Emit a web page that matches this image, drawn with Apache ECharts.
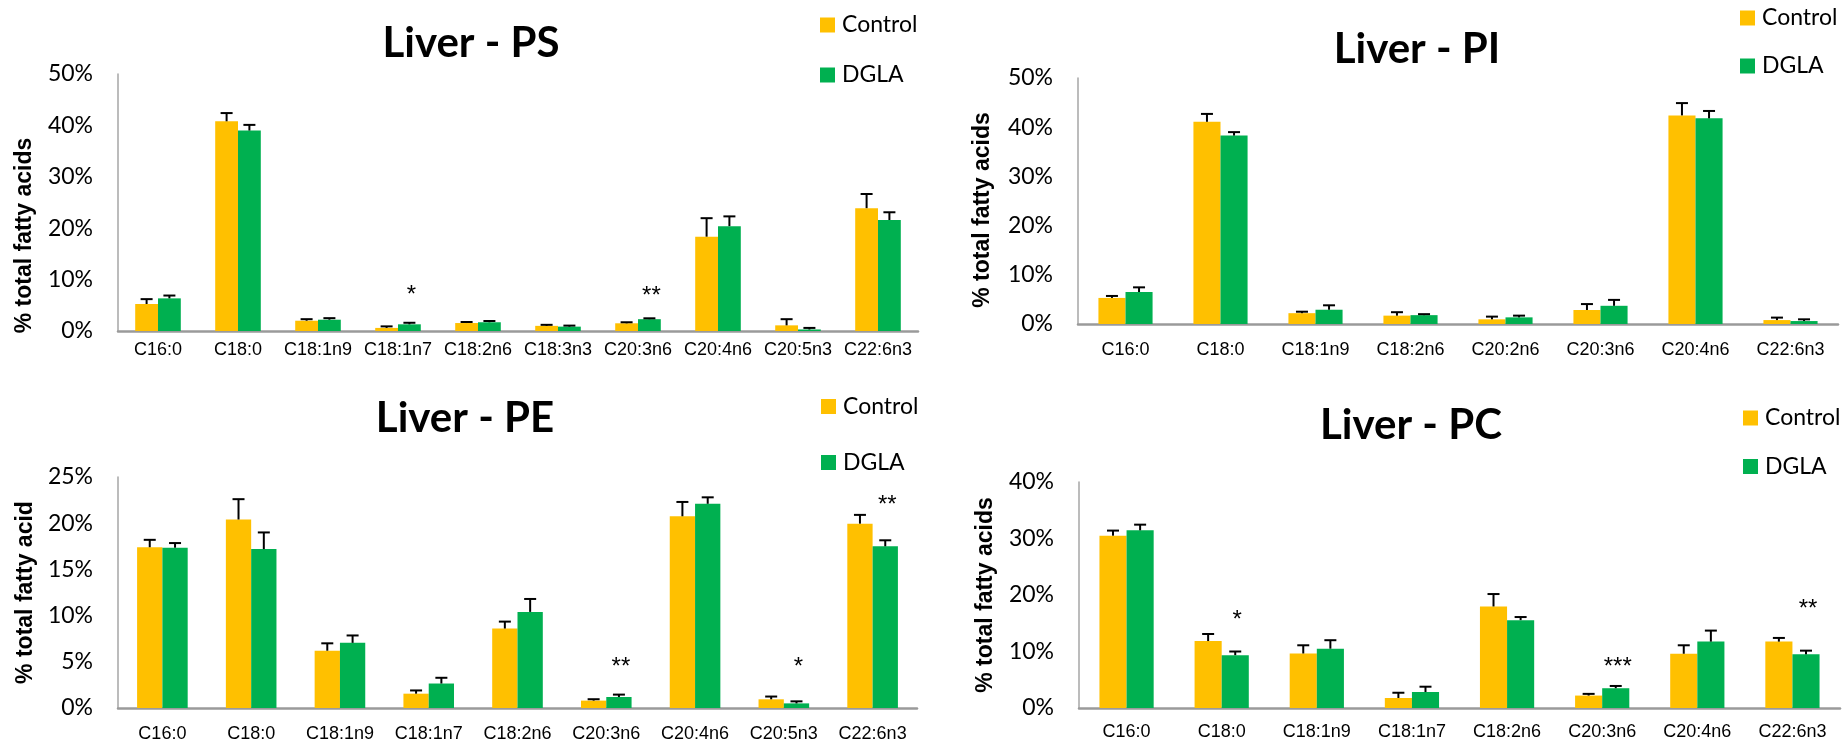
<!DOCTYPE html>
<html>
<head>
<meta charset="utf-8">
<title>Liver phospholipid fatty acids</title>
<script src="https://cdn.jsdelivr.net/npm/echarts@6/dist/echarts.min.js"></script>
<style>
  html, body { margin: 0; padding: 0; background: #fff; }
  #chart { width: 1848px; height: 744px; }
</style>
</head>
<body>
<div id="chart"></div>
<script>
// ---- Fatty acid composition (% of total fatty acids), mean and SEM ----
const seriesNames = ['Control', 'DGLA'];

// Liver - PS
const psCategories = ['C16:0', 'C18:0', 'C18:1n9', 'C18:1n7', 'C18:2n6', 'C18:3n3', 'C20:3n6', 'C20:4n6', 'C20:5n3', 'C22:6n3'];
const psControl    = [5.25, 40.8, 2.0, 0.6, 1.55, 1.0, 1.5, 18.35, 1.1, 23.9];
const psControlErr = [0.95, 1.6, 0.3, 0.3, 0.2, 0.2, 0.2, 3.6, 1.2, 2.75];
const psDGLA       = [6.35, 39.0, 2.2, 1.3, 1.7, 0.85, 2.3, 20.4, 0.3, 21.6];
const psDGLAErr    = [0.55, 1.1, 0.3, 0.3, 0.25, 0.2, 0.17, 1.9, 0.3, 1.5];
const psSig        = [['C18:1n7', '*', 8.1], ['C20:3n6', '**', 8.0]];

// Liver - PI
const piCategories = ['C16:0', 'C18:0', 'C18:1n9', 'C18:2n6', 'C20:2n6', 'C20:3n6', 'C20:4n6', 'C22:6n3'];
const piControl    = [5.3, 41.1, 2.2, 1.7, 0.95, 2.85, 42.4, 0.8];
const piControlErr = [0.4, 1.6, 0.3, 0.7, 0.55, 1.2, 2.5, 0.5];
const piDGLA       = [6.5, 38.3, 2.9, 1.8, 1.35, 3.7, 41.8, 0.6];
const piDGLAErr    = [0.95, 0.7, 0.9, 0.2, 0.35, 1.2, 1.5, 0.35];
const piSig        = [];

// Liver - PE
const peCategories = ['C16:0', 'C18:0', 'C18:1n9', 'C18:1n7', 'C18:2n6', 'C20:3n6', 'C20:4n6', 'C20:5n3', 'C22:6n3'];
const peControl    = [17.4, 20.4, 6.2, 1.55, 8.6, 0.8, 20.75, 0.94, 19.95];
const peControlErr = [0.8, 2.2, 0.8, 0.35, 0.75, 0.15, 1.55, 0.3, 0.95];
const peDGLA       = [17.35, 17.2, 7.05, 2.65, 10.4, 1.19, 22.1, 0.5, 17.5];
const peDGLAErr    = [0.5, 1.8, 0.8, 0.62, 1.4, 0.26, 0.7, 0.22, 0.65];
const peSig        = [['C20:3n6', '**', 5.0], ['C20:5n3', '*', 5.0], ['C22:6n3', '**', 22.6]];

// Liver - PC
const pcCategories = ['C16:0', 'C18:0', 'C18:1n9', 'C18:1n7', 'C18:2n6', 'C20:3n6', 'C20:4n6', 'C22:6n3'];
const pcControl    = [30.5, 11.85, 9.65, 1.77, 17.97, 2.2, 9.6, 11.75];
const pcControlErr = [0.9, 1.25, 1.45, 0.93, 2.2, 0.3, 1.5, 0.65];
const pcDGLA       = [31.45, 9.35, 10.5, 2.83, 15.55, 3.5, 11.75, 9.5];
const pcDGLAErr    = [1.0, 0.65, 1.5, 0.94, 0.55, 0.4, 1.95, 0.65];
const pcSig        = [['C18:0', '*', 16.6], ['C20:3n6', '***', 8.2], ['C22:6n3', '**', 18.6]];

// ---- Panel layout and styling ----
const COLORS = ['#FFC000', '#00B050'];
const CAT_GAP = 0.43;          // share of each category band left empty
const CALIBRI_LIKE = 'Lato, "Open Sans", sans-serif';
const ARIAL_LIKE = '"Liberation Sans", Arial, sans-serif';

const panels = [
  { title: 'Liver - PS', titleX: 466, titleY: 17,
    grid: { left: 118, top: 74, width: 800, height: 257 },
    yMax: 50, yStep: 10, yName: '% total fatty acids', nameShift: 33, nameGap: 82,
    labelMargin: 10, legend: { left: 820, top: 13.5, gap: 27 },
    cats: psCategories, ctrl: psControl, ctrlErr: psControlErr, dgla: psDGLA, dglaErr: psDGLAErr, sig: psSig },
  { title: 'Liver - PI', titleX: 1412, titleY: 23,
    grid: { left: 1078, top: 78, width: 760, height: 246 },
    yMax: 50, yStep: 10, yName: '% total fatty acids', nameShift: 9, nameGap: 84,
    labelMargin: 17, legend: { left: 1740, top: 6.5, gap: 25 },
    cats: piCategories, ctrl: piControl, ctrlErr: piControlErr, dgla: piDGLA, dglaErr: piDGLAErr, sig: piSig },
  { title: 'Liver - PE', titleX: 460, titleY: 392,
    grid: { left: 118, top: 477, width: 799, height: 231 },
    yMax: 25, yStep: 5, yName: '% total fatty acid', nameShift: 0, nameGap: 81,
    labelMargin: 17, legend: { left: 821, top: 395, gap: 33 },
    cats: peCategories, ctrl: peControl, ctrlErr: peControlErr, dgla: peDGLA, dglaErr: peDGLAErr, sig: peSig },
  { title: 'Liver - PC', titleX: 1406, titleY: 399,
    grid: { left: 1079, top: 482, width: 761, height: 226 },
    yMax: 40, yStep: 10, yName: '% total fatty acids', nameShift: 0, nameGap: 82,
    labelMargin: 15, legend: { left: 1743, top: 406.5, gap: 25.5 },
    cats: pcCategories, ctrl: pcControl, ctrlErr: pcControlErr, dgla: pcDGLA, dglaErr: pcDGLAErr, sig: pcSig }
];

// Upward-only error bar (T shape) above each bar of the pair
function renderErrorBar(params, api) {
  const cat = api.value(0), mean = api.value(1), err = api.value(2), side = api.value(3);
  const band = api.size([1, 0])[0];
  const barW = band * (1 - CAT_GAP) / 2;
  const base = api.coord([cat, mean]);
  const top = api.coord([cat, mean + err]);
  const x = base[0] + side * barW / 2;
  const stroke = { stroke: '#000', lineWidth: 2 };
  return {
    type: 'group',
    children: [
      { type: 'line', shape: { x1: x, y1: base[1], x2: x, y2: top[1] }, style: stroke },
      { type: 'line', shape: { x1: x - 6, y1: top[1], x2: x + 6, y2: top[1] }, style: stroke }
    ]
  };
}

// Significance asterisks, centred over the DGLA bar
function renderSig(params, api) {
  const cat = api.value(0), level = api.value(1);
  const text = params.context.texts[params.dataIndex];
  const band = api.size([1, 0])[0];
  const barW = band * (1 - CAT_GAP) / 2;
  const p = api.coord([cat, level]);
  return {
    type: 'text',
    x: p[0] + barW / 2 + 2,
    y: p[1] + 6,
    style: { text, fontSize: 24, fontFamily: ARIAL_LIKE, fill: '#000', textAlign: 'center', textVerticalAlign: 'middle' }
  };
}

const option = {
  backgroundColor: '#fff',
  animation: false,
  title: [], legend: [], grid: [], xAxis: [], yAxis: [], series: []
};

panels.forEach((p, i) => {
  option.title.push({
    text: p.title, left: p.titleX, top: p.titleY, textAlign: 'center',
    textStyle: { fontFamily: CALIBRI_LIKE, fontWeight: 'bold', fontSize: 42, color: '#000' }
  });
  option.legend.push({
    data: seriesNames, orient: 'vertical', left: p.legend.left, top: p.legend.top,
    itemGap: p.legend.gap, itemWidth: 15, itemHeight: 15, icon: 'rect', padding: 0,
    selectedMode: false,
    textStyle: { fontFamily: CALIBRI_LIKE, fontSize: 23, lineHeight: 22, color: '#000', padding: [0, 0, 0, 2] }
  });
  option.grid.push(Object.assign({ containLabel: false }, p.grid));
  option.xAxis.push({
    type: 'category', gridIndex: i, data: p.cats,
    axisLine: { lineStyle: { color: '#9A9A9A', width: 2.5 } },
    axisTick: { show: false },
    axisLabel: { interval: 0, margin: p.labelMargin, fontFamily: ARIAL_LIKE, fontSize: 18, color: '#000' }
  });
  option.yAxis.push({
    type: 'value', gridIndex: i, min: 0, max: p.yMax, interval: p.yStep,
    name: p.yName, nameLocation: 'middle', nameRotate: 90, nameGap: p.nameGap,
    nameTextStyle: { fontFamily: ARIAL_LIKE, fontWeight: 'bold', fontSize: 23, color: '#000',
                     padding: [0, p.nameShift * 2, 0, 0] },
    axisLine: { show: true, lineStyle: { color: '#A6A6A6', width: 1.5 } },
    axisTick: { show: false },
    splitLine: { show: false },
    axisLabel: { formatter: '{value}%', margin: 25, fontFamily: CALIBRI_LIKE, fontSize: 23, color: '#000' }
  });

  const groups = [[p.ctrl, p.ctrlErr], [p.dgla, p.dglaErr]];
  groups.forEach(([means], k) => {
    option.series.push({
      name: seriesNames[k], type: 'bar', xAxisIndex: i, yAxisIndex: i,
      data: means, barGap: '0%', barCategoryGap: (CAT_GAP * 100) + '%',
      itemStyle: { color: COLORS[k] }
    });
  });

  const errData = [];
  groups.forEach(([means, errs], k) => {
    means.forEach((m, c) => errData.push([c, m, errs[c], k === 0 ? -1 : 1]));
  });
  option.series.push({
    type: 'custom', xAxisIndex: i, yAxisIndex: i, z: 5,
    renderItem: renderErrorBar, data: errData, silent: true
  });

  if (p.sig.length) {
    const texts = p.sig.map(s => s[1]);
    option.series.push({
      type: 'custom', xAxisIndex: i, yAxisIndex: i, z: 6, silent: true,
      renderItem: (params, api) => { params.context.texts = texts; return renderSig(params, api); },
      data: p.sig.map(s => [p.cats.indexOf(s[0]), s[2]])
    });
  }
});

const chart = echarts.init(document.getElementById('chart'), null, { renderer: 'canvas' });
chart.setOption(option);
</script>
</body>
</html>
